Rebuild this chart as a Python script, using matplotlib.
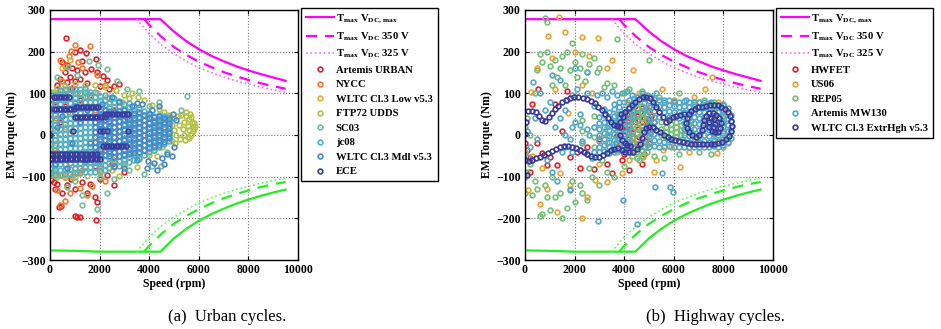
import numpy as np
import matplotlib
matplotlib.use("Agg")
import matplotlib.pyplot as plt

plt.rcParams['font.family'] = 'Liberation Serif'
plt.rcParams['font.weight'] = 'bold'
plt.rcParams['mathtext.fontset'] = 'custom'
plt.rcParams['mathtext.rm'] = 'Liberation Serif:bold'
plt.rcParams['mathtext.bf'] = 'Liberation Serif:bold'
plt.rcParams['mathtext.it'] = 'Liberation Serif:bold'
plt.rcParams['axes.unicode_minus'] = True

# ---- torque envelopes (speed rpm, torque Nm) ----
env_speed = [0, 1000, 2000, 3000, 4000, 4450, 5000, 5500, 6000, 6500, 7000, 7500, 8000, 8500, 9000, 9500]
env_top = [278, 278, 278, 278, 278, 278, 248, 225, 206, 190, 177, 165, 155, 146, 138, 130]
env_bot = [-277, -278, -280, -280, -280, -280, -248, -225, -206, -190, -177, -165, -155, -146, -138, -131]
v350_speed = [3800, 4000, 4500, 5000, 5500, 6000, 6500, 7000, 7500, 8000, 8500, 9000, 9500]
v350_top = [278, 264, 235, 211, 192, 176, 163, 151, 141, 132, 124, 117, 111]
v350_bot = [-280, -266, -237, -213, -194, -178, -164, -152, -142, -133, -125, -118, -113]
v325_speed = [3500, 4000, 4500, 5000, 5500, 6000, 6500, 7000, 7500, 8000, 8500, 9000, 9500]
v325_top = [278, 243, 216, 195, 177, 162, 150, 139, 130, 122, 115, 108, 102]
v325_bot = [-280, -245, -218, -197, -179, -163, -151, -140, -131, -123, -116, -109, -103]

# ---- urban cycles ----
artemis_urban = [(650, 233), (1450, 196), (1000, 198), (1200, 205), (500, 175), (700, 168), (900, 160),
                 (1300, 178), (600, 150), (800, 140), (1100, 155), (1400, 150), (1650, 158), (1900, 150),
                 (1850, 182), (2300, 132), (400, 135), (300, 120), (1000, 130), (2150, 142), (2600, 118),
                 (2800, 122), (900, 112), (1500, 125), (2000, 118), (1200, 135), (700, 128), (2400, 110),
                 (400, 30), (800, -20), (1500, -60), (2000, 50), (2600, 60), (3100, 40), (600, 70),
                 (1200, 85), (300, -40), (1800, -75), (2500, -70), (2200, -30), (900, 10), (200, 80),
                 (1600, 95), (50, -108), (150, -112), (300, -118), (450, -170), (380, -172), (1000, -195),
                 (1100, -196), (1200, -197), (1850, -205), (1900, -162), (1800, -150), (1500, -140),
                 (1000, -130), (700, -120), (2600, -120), (2000, -105), (1300, -112), (600, -100),
                 (2300, -95), (3000, -88), (200, -130), (500, -140), (1600, -118), (850, -105)]
nycc = [(1000, 216), (1600, 213), (850, 202), (400, 180), (600, 165), (1150, 175), (1900, 145), (750, 190),
        (500, 130), (1300, 160), (2200, 120), (300, 100), (150, -90), (400, -168), (600, -158), (1500, -145),
        (800, -140), (1200, -128), (300, -132), (1700, -122), (2200, -110), (900, -100), (500, -95),
        (1100, -92), (2000, -80), (700, -60), (1300, -85), (1000, 80), (600, 95), (1800, 60), (250, 40),
        (2500, -60)]
wltc_low = [(100, -92), (300, -96), (600, -95), (900, -98), (1200, -90), (200, 100), (500, 105), (800, 110),
            (1100, 100), (1500, 90), (150, 60), (400, -60), (700, -80), (1000, -70), (250, -20), (600, 20),
            (1300, -40), (1700, 70), (300, 10), (900, 50), (1400, -75), (2000, -85), (500, 160), (800, 180),
            (1900, 100), (2300, 90), (2600, -60), (150, -40)]
ftp72 = [(5000, 40), (5150, 45), (5300, 47), (5500, 45), (5620, 38), (5720, 30), (5760, 20), (5750, 10),
         (5700, 0), (5600, -8), (5450, -12), (5250, -10), (5100, 0), (5000, 12), (4900, 25), (5400, 30),
         (5550, 22), (5620, 12), (5350, 15), (5200, 25), (4800, 48), (4400, 62), (4100, 72), (3800, 85),
         (3550, 92), (3300, 100), (3000, 95), (2650, 108), (2200, 114), (1800, 120), (1400, 120), (1000, 122),
         (600, 118), (300, 112), (80, 104), (100, -96), (300, -100), (600, -102), (1000, -102), (1500, -98),
         (2000, -92), (2500, -84), (3000, -74), (3600, -58), (4000, -48), (4500, -28), (4300, -50),
         (5650, 50), (5500, 55), (3900, 48), (4600, 55), (4700, 42), (2900, 80), (3200, 88), (4200, -35),
         (4800, 5), (4900, -15), (5050, -20), (3500, -78), (2800, -98), (5800, 28), (5800, 15), (5700, 42),
         (5550, -5), (5850, 22), (5400, 0)]
sc03 = [(5510, 94), (4110, -74), (4460, -74), (3790, -94), (2290, 158), (1950, 168), (1590, 178), (740, 164),
        (300, 140), (1100, 145), (2700, 130), (3100, 110), (3600, 105), (4400, 80), (1880, -178), (1280, -144),
        (1280, -168), (2310, -140), (670, -124), (1000, -110), (2600, -105), (3200, -85), (200, -80), (500, 90),
        (2000, -100), (4000, 70), (4700, -40), (5300, 60), (3000, -60), (1500, 100), (600, -70), (2400, 80),
        (3400, -40), (4300, 20)]
jc08_cols = [
    (0, [-92, -80, -69, -57, -45, -33, -21, -9, 3, 15, 27, 39, 51, 63, 75, 87, 100]),
    (200, [-96, -84, -71, -59, -47, -35, -23, -11, 1, 13, 25, 37, 49, 61, 73, 85, 97]),
    (400, [-95, -83, -70, -58, -46, -34, -22, -10, 2, 14, 26, 38, 50, 62, 74, 86, 98, 108]),
    (600, [-94, -82, -70, -57, -45, -33, -21, -9, 3, 15, 27, 39, 51, 63, 75, 87, 99, 110]),
    (800, [-93, -81, -68, -56, -44, -32, -20, -8, 4, 16, 28, 40, 52, 64, 76, 88, 100, 111]),
    (1000, [-92, -80, -68, -56, -44, -32, -20, -8, 4, 16, 28, 40, 52, 64, 76, 88, 100, 110]),
    (1200, [-92, -79, -67, -55, -43, -31, -19, -7, 5, 17, 29, 41, 53, 65, 77, 89, 101, 110]),
    (1400, [-90, -78, -66, -54, -42, -30, -18, -6, 6, 18, 30, 42, 54, 66, 78, 90, 102, 112]),
    (1600, [-89, -77, -65, -53, -41, -29, -17, -5, 7, 19, 31, 43, 55, 67, 79, 91, 103]),
    (1800, [-88, -76, -64, -52, -40, -28, -16, -4, 8, 20, 32, 44, 56, 68, 80, 92, 102]),
    (2000, [-86, -74, -62, -50, -38, -26, -14, -2, 10, 22, 34, 46, 58, 70, 82, 94]),
    (2200, [-84, -72, -60, -48, -36, -24, -12, 0, 12, 24, 36, 48, 60, 72, 84, 95]),
    (2400, [-80, -68, -56, -44, -32, -20, -8, 4, 16, 28, 40, 52, 64, 76, 88]),
    (2600, [-77, -65, -53, -41, -29, -17, -5, 7, 19, 31, 43, 55, 67, 79, 88]),
    (2800, [-74, -62, -50, -38, -26, -14, -2, 10, 22, 34, 46, 58, 70, 82]),
    (3000, [-70, -58, -46, -34, -22, -10, 2, 14, 26, 38, 50, 62, 74]),
    (3200, [-66, -54, -42, -30, -18, -6, 6, 18, 30, 42, 54, 66, 76]),
    (3400, [-60, -48, -36, -24, -12, 0, 12, 24, 36, 48, 60, 70]),
    (3600, [-55, -43, -31, -19, -7, 5, 17, 29, 41, 53, 63]),
    (3800, [-48, -36, -24, -12, 0, 12, 24, 36, 48, 58]),
    (4000, [-42, -30, -18, -6, 6, 18, 30, 42, 52]),
    (4200, [-36, -24, -12, 0, 12, 24, 36, 46]),
    (4400, [-30, -18, -6, 6, 18, 30, 40, 48]),
    (4600, [-22, -10, 2, 14, 26, 38, 46]),
    (4800, [-14, -2, 10, 22, 34, 44]),
]
wltc_mdl_cols = [
    (1800, [-40, -28, -16, -4, 8, 20, 32, 44]),
    (2000, [-45, -33, -21, -9, 3, 15, 27, 39, 51]),
    (2200, [-48, -36, -24, -12, 0, 12, 24, 36, 48, 60]),
    (2400, [-50, -38, -26, -14, -2, 10, 22, 34, 46, 58]),
    (2600, [-52, -40, -28, -16, -4, 8, 20, 32, 44, 56]),
    (2800, [-50, -38, -26, -14, -2, 10, 22, 34, 46, 58]),
    (3000, [-48, -36, -24, -12, 0, 12, 24, 36, 48, 60]),
    (3200, [-46, -34, -22, -10, 2, 14, 26, 38, 50]),
    (3400, [-44, -32, -20, -8, 4, 16, 28, 40, 52]),
    (3600, [-40, -28, -16, -4, 8, 20, 32, 44, 55]),
    (3800, [-36, -24, -12, 0, 12, 24, 36, 48]),
    (4000, [-32, -20, -8, 4, 16, 28, 40, 50]),
    (4200, [-28, -16, -4, 8, 20, 32, 44]),
    (4400, [-24, -12, 0, 12, 24, 36, 46]),
    (4600, [-18, -6, 6, 18, 30, 40]),
    (4800, [-8, 4, 16, 28, 38]),
]
wltc_mdl_extra = [(4500, -55), (4200, -68), (3900, -80), (3500, -60), (4700, -45), (4300, -85), (5000, -30),
                  (5100, 35), (4950, 50), (3700, 75), (3300, 70), (2800, 80), (2500, 90), (2100, 75),
                  (1500, 60), (1200, 30), (900, -20), (600, -50), (300, 20), (1000, 70), (700, -80),
                  (1400, -60), (200, -70), (500, 45), (1600, -20), (3000, -80), (2600, -75), (4100, 60),
                  (4900, -50), (4600, -70), (3950, -62), (4400, 70), (3500, 77)]
ece_rows = [
    (90, [150, 250, 350, 450, 550, 650, 750]),
    (62, [150, 250, 350, 450, 550, 650, 750, 850, 950]),
    (68, [1050, 1150, 1250, 1350, 1450, 1550, 1650, 1750, 1850, 1950]),
    (44, [1000, 1100, 1200, 1300, 1400, 1500, 1600, 1700, 1800, 1900, 2000, 2100, 2200]),
    (50, [2200, 2300, 2400, 2500, 2600, 2700, 2800, 2900, 3000, 3100, 3150]),
    (10, [930, 2000, 2150, 2300, 3150]),
    (0, [0]),
    (-26, [2150, 2250, 2350, 2450, 2550, 2650, 2750, 2850, 2950, 3050]),
    (-46, [0, 100, 200, 300, 400, 500, 600, 700, 800, 900, 1000, 1100, 1200, 1300, 1400, 1500, 1600, 1700, 1800, 1900]),
    (-58, [0, 100, 200, 300, 400, 500, 600, 700, 800, 900, 1000, 1100, 1200, 1300, 1400, 1500, 1600, 1700, 1800, 1900, 2000]),
]

# ---- highway cycles ----
hwfet = [(0, -20), (100, -35), (200, -55), (540, 110), (1700, 105), (670, -44), (870, -72), (1280, -72),
         (1000, -52), (1810, -52), (2080, -40), (2220, -80), (470, -20), (2800, -82), (3300, -70), (3500, -92),
         (4200, -85), (4700, -70), (200, -90), (1500, 10), (2500, -30), (3000, -10), (1200, 75), (300, 75),
         (3900, 20), (4000, 35), (4050, 10), (4100, 50), (4150, -10), (4200, 25), (4250, 40), (4300, 5),
         (4350, 60), (4400, -20), (4450, 30), (4500, 45), (4550, 15), (4600, -5), (4650, 55), (4700, 30),
         (4750, 10), (4800, 40), (4850, -15), (4900, 25), (4950, 60), (5000, 35), (5050, 5), (5100, 45),
         (5150, 20), (3950, -25), (4100, -35), (4300, -40), (4600, -30), (4800, -45), (5200, 30), (5000, -20),
         (4450, 70), (4250, 15), (4050, 55), (4700, 65), (4550, -25), (3800, 40), (3700, 0), (3650, -20),
         (4350, -5), (4000, -45), (3900, -60)]
us06 = [(1380, 282), (915, 238), (1610, 246), (2280, 234), (2960, 232), (4370, 156), (3500, 180), (240, 104),
        (1720, 52), (1410, -92), (2280, -200), (600, -166), (135, -132), (3290, -114), (2820, -108), (3900, -92),
        (5510, 110), (7260, 110), (7550, 138), (6250, -76), (7730, -44), (4770, -52), (5580, -36), (500, 160),
        (1100, 185), (2000, 200), (2600, 190), (700, -80), (1800, -120), (2500, -150), (3000, -70), (3700, -40),
        (4200, -60), (4600, 100), (5000, 90), (6000, 85), (6800, 90), (7800, 80), (8200, -20), (6600, -40),
        (5300, -60), (5900, -30), (2300, 120), (1200, 110), (300, -50), (900, -130), (1300, -185), (3300, 160),
        (2700, 100), (4100, 80), (5200, -90), (6800, -20), (8100, 60)]
rep05 = [(820, 280), (870, 272), (500, 155), (700, 175), (1000, 165), (1200, 180), (1500, 190), (1800, 155),
         (2000, 175), (2300, 195), (2500, 150), (2800, 185), (3000, 160), (3300, 125), (3700, 230), (4000, 100),
         (1300, 140), (1600, 120), (600, 195), (900, 200), (1900, 220), (2200, 160), (2600, 170), (1100, 120),
         (400, 100), (1400, 160), (2100, 140), (2900, 150), (3200, 115), (3600, 120), (4200, 110), (4700, 105),
         (5400, 90), (6200, 100), (5000, 180), (1700, 200), (2400, 130), (300, -145), (600, -195), (700, -190),
         (1000, -180), (1500, -200), (2000, -160), (2300, -140), (1200, -150), (1800, -130), (2500, -155),
         (3000, -120), (400, -110), (100, -90), (200, -70), (0, -140), (0, -100), (500, -130), (800, -120),
         (1100, -100), (1700, -175), (2200, -120), (2700, -100), (3300, -90), (3600, -100), (1400, -140),
         (900, -150), (1900, -110), (2600, -80), (3100, -60), (4000, -75), (4600, -60), (5200, -50), (5600, -55),
         (6200, -45), (7000, -40), (7500, -45), (8000, -30), (300, -60), (0, -40), (0, 20), (100, 40), (200, 0)]
rep05_cols = [
    (2300, [-20, 10, 35]), (2800, [-30, -5, 20, 45]), (3300, [-40, -20, 0, 20]),
    (3700, [-30, -10, 10, 30, 50]), (4300, [-50, -35, -20, -5, 10, 25, 40, 55, 70]),
    (4500, [-55, -40, -25, -10, 5, 20, 35, 50, 65, 80]), (4700, [-50, -35, -20, -5, 10, 25, 40, 55, 70]),
    (4900, [-40, -25, -10, 5, 20, 35, 50, 65]), (5500, [0, 15, 30]), (5700, [-5, 8, 20, 32]),
    (5900, [-10, 3, 15, 27, 40]), (6100, [-5, 8, 20, 32]), (6300, [0, 12, 24]), (6700, [10, 22, 34]),
    (8000, [-10, 10, 30, 50]), (7600, [-15, 5, 65, 80]), (7200, [70, 85]), (6800, [75, -15]),
]
mw130 = [(2960, -206), (1810, -132), (135, -52), (3940, -156), (5510, -92), (5850, -124), (5240, -124),
         (5980, -138), (4500, -214), (340, 128), (1080, 144), (2020, 160), (2490, 152), (1410, 132),
         (1200, 20), (1400, 40), (1600, 60), (1800, -10), (2000, 30), (2200, 50), (2400, -40), (2600, 0),
         (2800, 70), (1500, -40), (2300, -15), (2700, -55), (1000, 80), (800, 60), (600, 100), (400, 40),
         (200, -30), (100, 10), (500, -10), (900, -60), (1100, -90), (1300, -110), (1700, 85), (1900, 95),
         (2100, 110), (2500, 100), (2900, 95), (3100, 100), (3300, 90), (3500, 105), (3700, 95), (3900, 100),
         (4100, 105), (4300, 95), (4500, 90), (4700, 100), (4900, 95), (5100, 90), (5300, 100), (5600, 85),
         (6000, 80), (6500, 85), (7000, 80), (7500, 80), (8000, 75), (1600, -30), (1600, 0), (1900, -40),
         (1900, 20), (2200, -35), (2200, 25), (2500, -45), (2500, 15), (2800, -40), (2800, 20)]
mw130_cols = [
    (3000, [-42, -28, -14, 0, 14, 28, 44]),
    (3200, [-38, -24, -10, 4, 18, 32, 48, 62]),
    (3400, [-44, -30, -16, -2, 12, 26, 40, 56]),
    (3600, [-40, -26, -12, 2, 16, 30, 46, 62, 74]),
    (3800, [-36, -22, -8, 6, 20, 34, 50, 66, 80]),
    (4000, [-40, -26, -12, 2, 16, 30, 46, 62, 78]),
    (4200, [-34, -20, -6, 8, 22, 36, 52, 68, 84]),
    (4400, [-30, 42, 58, 74, 88]),
    (4800, [-28, 60, 76, 90]),
    (5000, [-30, -16, -2, 12, 26, 40, 54, 68, 82]),
    (5200, [-26, -12, 2, 16, 30, 44, 58, 72, 86]),
    (5400, [-28, -14, 42, 56, 70, 84]),
    (5600, [-30, -16, 54, 68, 80]),
    (5800, [-26, -12, 44, 58, 72, 84]),
    (6000, [-28, -14, 56, 70, 82]),
    (6200, [-30, -16, 40, 54, 68, 80]),
    (6400, [-28, -14, 0, 14, 28, 42, 56, 70, 82]),
    (6600, [-30, -16, -2, 12, 26, 40, 54, 68, 78]),
    (6800, [-28, -14, 0, 14, 28, 42, 56, 70, 80]),
    (7000, [-30, -16, -2, 12, 26, 40, 54, 68, 78]),
    (7200, [-28, -14, 0, 14, 28, 42, 56, 70, 80]),
    (7400, [-30, -16, -2, 12, 26, 40, 54, 68, 76]),
    (7600, [-26, -12, 2, 16, 30, 44, 58, 72]),
    (7800, [-28, -14, 0, 14, 28, 42, 56, 70]),
    (8000, [-24, -10, 4, 18, 32, 46, 60, 72]),
    (8200, [-18, -4, 10, 24, 38, 52, 64]),
    (8300, [-8, 6, 20, 34, 48]),
]
extr_hgh = [(0, 2), (40, 30), (120, 58), (280, 57), (450, 55), (580, 46), (700, 37), (820, 34), (950, 42),
            (1080, 52), (1200, 62), (1330, 70), (1480, 78), (1640, 84), (1800, 88), (1970, 90), (2150, 90),
            (2330, 88), (2500, 86), (2660, 82), (2820, 76), (2960, 68), (3100, 59), (3230, 50), (3350, 41),
            (3470, 32), (3590, 24), (3720, 21), (3830, 30), (3940, 42), (4050, 54), (4180, 64), (4310, 72),
            (4450, 80), (4590, 86), (4740, 90), (4890, 91), (5040, 88), (5180, 80), (5300, 68), (5420, 55),
            (5550, 42), (5680, 32), (5820, 36), (5960, 42), (6100, 46), (6250, 48), (6400, 50),
            (70, -96), (0, -60), (150, -62), (300, -60), (460, -56), (620, -52), (780, -48), (940, -44),
            (1100, -38), (1250, -33), (1400, -30), (1560, -27), (1720, -26), (1880, -28), (2040, -32),
            (2200, -36), (2360, -41), (2520, -46), (2680, -50), (2840, -52), (3000, -52), (3160, -49),
            (3310, -43), (3450, -37), (3600, -33), (3750, -32), (3900, -35), (4050, -40), (4200, -42),
            (4350, -40), (4500, -34), (4620, -22), (4700, -8), (4780, 6), (4880, 16), (5000, 20), (5150, 18),
            (5300, 12), (5450, 6), (5600, 0), (5750, -5), (5900, -9), (6050, -12), (6200, -15), (6360, -18),
            (6520, -20), (6680, -21), (6840, -22), (7000, -22), (7160, -22), (7320, -22), (7480, -22),
            (7640, -21), (7800, -20), (7950, -16), (8100, -10), (8230, -2), (8300, 10), (8330, 22), (8320, 34),
            (8270, 46), (8180, 56), (8060, 63), (7920, 68), (7770, 71), (7610, 72), (7450, 72), (7290, 70),
            (7130, 68), (6980, 66), (6840, 63), (6710, 58), (6600, 50), (6520, 40), (6500, 28), (6540, 16),
            (6620, 6), (6740, 0), (6880, -4), (7020, 0), (7120, 12), (7180, 24), (7220, 36), (7300, 46),
            (7420, 52), (7560, 52), (7700, 48), (7820, 40), (7900, 28), (7880, 16), (7780, 8), (7650, 6),
            (7520, 10), (7420, 20), (7400, 32), (7480, 40), (7600, 38), (7650, 26), (7560, 20),
            (3880, 50), (3820, 20), (3850, 0), (3920, -12), (4020, -20), (4130, -24), (4250, -26)]

urban_names = ['Artemis URBAN', 'NYCC', 'WLTC Cl.3 Low v5.3', 'FTP72 UDDS', 'SC03', 'jc08',
               'WLTC Cl.3 Mdl v5.3', 'ECE']
urban_colors = ['#e0222a', '#f07a35', '#e8a83a', '#b4c244', '#72c096', '#52b2c2', '#4888cc', '#3a3ea0']
highway_names = ['HWFET', 'US06', 'REP05', 'Artemis MW130', 'WLTC Cl.3 ExtrHgh v5.3']
highway_colors = ['#e0222a', '#f0a232', '#74c074', '#52a8c8', '#3a389e']


def pts(lst):
    a = np.array(lst, dtype=float)
    return a[:, 0], a[:, 1]


def cols(lst):
    s, t = [], []
    for x, ys in lst:
        s += [x] * len(ys)
        t += ys
    return np.array(s, float), np.array(t, float)


def rows(lst):
    s, t = [], []
    for y, xs in lst:
        s += xs
        t += [y] * len(xs)
    return np.array(s, float), np.array(t, float)


def join(*parts):
    return (np.concatenate([p[0] for p in parts]), np.concatenate([p[1] for p in parts]))


urban_data = [pts(artemis_urban), pts(nycc), pts(wltc_low), pts(ftp72), pts(sc03), cols(jc08_cols),
              join(cols(wltc_mdl_cols), pts(wltc_mdl_extra)), rows(ece_rows)]
highway_data = [pts(hwfet), pts(us06), join(pts(rep05), cols(rep05_cols)),
                join(pts(mw130), cols(mw130_cols)), pts(extr_hgh)]

fig = plt.figure(figsize=(9.41, 3.29), dpi=100)
ax1 = fig.add_axes([0.0531, 0.2097, 0.2636, 0.76])
ax2 = fig.add_axes([0.5579, 0.2097, 0.2636, 0.76])

lab_max = r'$\mathrm{T}_{\mathrm{max}}\ \mathrm{V}_{\mathrm{DC,\,max}}$'
lab_350 = r'$\mathrm{T}_{\mathrm{max}}\ \mathrm{V}_{\mathrm{DC}}$ 350 V'
lab_325 = r'$\mathrm{T}_{\mathrm{max}}\ \mathrm{V}_{\mathrm{DC}}$ 325 V'


def draw(ax, names, colors, data, legx):
    handles = []
    h1, = ax.plot(env_speed, env_top, '-', color='#ff00ff', lw=1.6, label=lab_max)
    h2, = ax.plot(v350_speed, v350_top, '--', color='#ff00ff', lw=1.6, dashes=(5, 3.5), label=lab_350)
    h3, = ax.plot(v325_speed, v325_top, ':', color='#ff66ff', lw=1.2, label=lab_325)
    ax.plot(env_speed, env_bot, '-', color='#22ee22', lw=1.6)
    ax.plot(v350_speed, v350_bot, '--', color='#22ee22', lw=1.6, dashes=(5, 3.5))
    ax.plot(v325_speed, v325_bot, ':', color='#55ff55', lw=1.2)
    handles += [h1, h2, h3]
    for name, c, (s, t) in zip(names, colors, data):
        h, = ax.plot(s, t, 'o', ls='none', ms=3.4, mfc='none', mec=c, mew=1.2, label=name)
        handles.append(h)
    ax.set_xlim(0, 10000)
    ax.set_ylim(-300, 300)
    ax.set_xticks(range(0, 10001, 2000))
    ax.set_yticks(range(-300, 301, 100))
    ax.grid(True, ls=':', color='#777777', lw=0.8)
    ax.tick_params(direction='in', top=True, right=True, length=3, labelsize=8.5, pad=3)
    for lbl in ax.get_xticklabels() + ax.get_yticklabels():
        lbl.set_fontweight('bold')
    for sp in ax.spines.values():
        sp.set_linewidth(1.0)
    ax.set_xlabel('Speed (rpm)', fontsize=8.5, fontweight='bold', labelpad=1)
    ax.set_ylabel('EM Torque (Nm)', fontsize=8.5, fontweight='bold', labelpad=2)
    leg = fig.legend(handles=handles, loc='upper left', bbox_to_anchor=(legx, 0.977),
                     bbox_transform=fig.transFigure, numpoints=1, handlelength=2.6,
                     handletextpad=0.2, labelspacing=0.47, borderaxespad=0, borderpad=0.45,
                     fancybox=False, framealpha=1, edgecolor='black',
                     prop={'family': 'Liberation Serif', 'weight': 'bold', 'size': 7.7})
    leg.get_frame().set_linewidth(1.0)


draw(ax1, urban_names, urban_colors, urban_data, 0.320)
draw(ax2, highway_names, highway_colors, highway_data, 0.8247)

fig.text(0.241, 0.036, '(a)  Urban cycles.', ha='center', va='center', fontsize=12, fontweight='normal')
fig.text(0.760, 0.036, '(b)  Highway cycles.', ha='center', va='center', fontsize=12, fontweight='normal')

fig.savefig('out.png', dpi=100)
